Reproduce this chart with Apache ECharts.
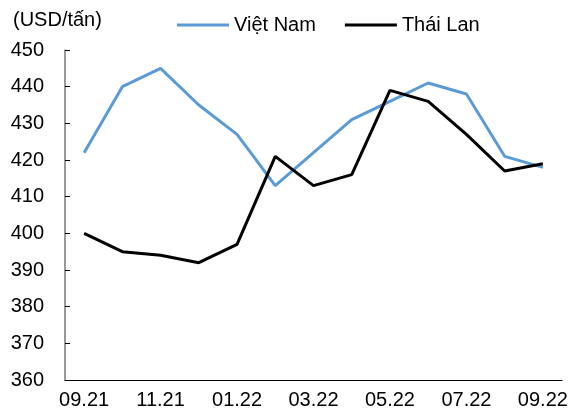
<!DOCTYPE html>
<html><head><meta charset="utf-8">
<script src="https://cdn.jsdelivr.net/npm/echarts@6/dist/echarts.min.js"></script>
<style>html,body{margin:0;padding:0;background:#fff}#c{width:572px;height:412px}</style>
</head><body><div id="c"></div>
<script>
const categories = ['09.21','10.21','11.21','12.21','01.22','02.22','03.22','04.22','05.22','06.22','07.22','08.22','09.22'];
const vietnam = [422,440,445,435,427,413,422,431,436,441,438,421,418];
const thailand = [400,395,394,392,397,421,413,416,439,436,427,417,419];
const yTicks = [360,370,380,390,400,410,420,430,440,450];
const chart = echarts.init(document.getElementById('c'));
const font = 'Liberation Sans, Arial, sans-serif';
chart.setOption({
  animation:false,
  graphic:[{type:'text',left:13,top:10,style:{text:'(USD/tấn)',font:'20px '+font,fill:'#000'}}],
  legend:{top:10,left:172,itemGap:29,itemWidth:52,itemHeight:3,icon:'rect',
    textStyle:{fontFamily:font,fontSize:20,color:'#000'},
    data:['Việt Nam','Thái Lan']},
  grid:{left:65,right:10,top:50,bottom:32},
  xAxis:{type:'category',data:categories,boundaryGap:true,
    axisLine:{lineStyle:{color:'#000',width:1}},
    axisTick:{inside:true,length:4,interval:0,lineStyle:{color:'#000'}},
    axisLabel:{interval:1,fontFamily:font,fontSize:20,color:'#000',margin:10}},
  yAxis:{type:'value',min:360,max:450,interval:10,
    axisLine:{show:true,lineStyle:{color:'#777',width:1.5}},
    axisTick:{show:true,inside:true,length:5,lineStyle:{color:'#000'}},
    splitLine:{show:false},
    axisLabel:{fontFamily:font,fontSize:20,color:'#000',margin:21,
      formatter:v=>yTicks.includes(v)?String(v):''}},
  series:[
    {name:'Việt Nam',type:'line',data:vietnam,symbol:'none',lineStyle:{color:'#5B9BD5',width:3},itemStyle:{color:'#5B9BD5'}},
    {name:'Thái Lan',type:'line',data:thailand,symbol:'none',lineStyle:{color:'#000',width:3},itemStyle:{color:'#000'}}
  ]
});
</script></body></html>
